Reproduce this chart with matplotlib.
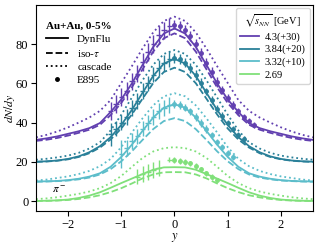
import numpy as np
import matplotlib
matplotlib.use('Agg')
from matplotlib import pyplot as plt
from matplotlib.lines import Line2D

plt.rcParams['font.family'] = 'serif'
plt.rcParams['font.serif'] = ['Liberation Serif', 'DejaVu Serif']
plt.rcParams['mathtext.fontset'] = 'stix'
plt.rcParams['font.size'] = 9
plt.rcParams['xtick.major.pad'] = 2.5
plt.rcParams['ytick.major.pad'] = 2

# model curves, y >= 0 (mirrored to y < 0), step 0.2
y_half = [0.0, 0.2, 0.4, 0.6, 0.8, 1.0, 1.2, 1.4, 1.6, 1.8, 2.0, 2.2, 2.4, 2.6]

dyn_43 = [88.0, 85.4, 78.6, 69.4, 60.0, 51.8, 45.4, 39.8, 37.2, 35.6, 34.3, 33.0, 32.0, 31.2]
iso_43 = [85.5, 83.0, 76.2, 67.2, 58.0, 50.0, 43.8, 38.9, 36.4, 34.8, 33.4, 32.2, 31.3, 30.7]
cas_43 = [94.0, 91.8, 86.0, 77.8, 68.8, 60.2, 51.5, 46.0, 42.6, 40.0, 37.6, 35.5, 33.8, 32.5]

dyn_384 = [72.5, 70.1, 63.8, 55.2, 46.5, 38.8, 32.6, 28.0, 24.9, 22.8, 21.5, 20.7, 20.3, 20.1]
iso_384 = [68.0, 65.8, 60.1, 52.2, 44.2, 37.0, 31.4, 27.3, 24.4, 22.5, 21.3, 20.6, 20.2, 20.0]
cas_384 = [77.0, 75.0, 69.5, 61.6, 52.8, 44.0, 36.0, 30.0, 26.8, 24.6, 23.2, 22.3, 21.6, 21.1]

dyn_332 = [49.4, 47.6, 42.6, 35.8, 28.8, 22.5, 17.5, 14.2, 12.5, 11.4, 10.7, 10.3, 10.1, 10.0]
iso_332 = [42.3, 40.8, 36.7, 31.2, 25.4, 20.3, 16.3, 13.6, 12.0, 11.1, 10.5, 10.2, 10.0, 9.9]
cas_332 = [55.0, 53.4, 48.8, 42.2, 35.0, 27.5, 21.5, 17.8, 15.4, 13.8, 12.6, 11.8, 11.0, 10.5]

dyn_269 = [17.3, 17.2, 16.0, 13.8, 11.5, 9.2, 6.8, 4.5, 2.8, 1.6, 0.8, 0.4, 0.2, 0.1]
iso_269 = [14.8, 14.7, 13.6, 11.6, 9.0, 6.6, 4.6, 3.0, 1.9, 1.1, 0.6, 0.3, 0.15, 0.1]
cas_269 = [27.5, 27.0, 25.3, 22.0, 17.5, 12.8, 9.2, 6.6, 4.9, 3.7, 2.8, 2.0, 1.4, 1.0]

# E895 data (already shifted)
d43_y = [-1.2, -1.1, -1.0, -0.9, -0.8, -0.7, -0.6, -0.5, -0.4, -0.3, -0.2, -0.1,
         0.0, 0.1, 0.2, 0.3, 0.4, 0.5, 0.6, 0.7, 0.8, 0.9, 1.0, 1.1, 1.2, 1.3, 1.4, 1.5]
d43_v = [46, 49.5, 53, 56, 61, 65, 71, 76, 80, 84.5, 87, 89,
         90, 89.3, 87.3, 84.2, 80.2, 75.5, 70.6, 65.7, 60.8, 56.5, 52.4, 48.9, 45.7, 43.1, 40.7, 38.9]
d43_e = [4.5, 4.5, 4.5, 4.5, 4.5, 4.5, 4.5, 4.5, 4.5, 4.5, 4.5, 4.5,
         2.5, 2.5, 2.5, 2.5, 2.5, 2.5, 2.5, 2.5, 2.5, 2.0, 2.0, 2.0, 2.0, 1.5, 1.5, 1.5]

d384_y = [-1.2, -1.1, -1.0, -0.9, -0.8, -0.7, -0.6, -0.5, -0.4, -0.3, -0.2, -0.1,
          0.0, 0.1, 0.2, 0.3, 0.4, 0.5, 0.6, 0.7, 0.8, 0.9, 1.0, 1.1, 1.2, 1.3]
d384_v = [34, 37, 40, 43, 47.5, 51, 56, 60, 64.5, 68, 70.5, 72.5,
          73, 72.4, 70.6, 67.8, 64.3, 60.2, 55.9, 51.5, 47.2, 43.4, 39.8, 36.7, 33.8, 31.6]
d384_e = [6, 4, 4, 4, 4, 4, 4, 4, 4, 4, 4, 4,
          2.5, 2.5, 2.5, 2.5, 2.5, 2.5, 2, 2, 2, 2, 1.5, 1.5, 1.5, 1.5]

d332_y = [-1.0, -0.9, -0.8, -0.7, -0.6, -0.5, -0.4, -0.3, -0.2, -0.1,
          0.0, 0.1, 0.2, 0.3, 0.4, 0.5, 0.6, 0.7, 0.8, 0.9, 1.0, 1.1]
d332_v = [24, 27, 30.5, 33, 37, 40, 43, 46, 47.5, 49,
          49.5, 49.0, 47.7, 45.7, 43.0, 40.0, 36.7, 33.5, 30.3, 27.4, 24.7, 22.4]
d332_e = [7, 4, 4, 4, 4, 4, 4, 4, 4, 4,
          2, 2, 2, 2, 2, 2, 2, 1.5, 1.5, 1.5, 1.5, 1.5]

d269_y = [-0.7, -0.6, -0.5, -0.4, -0.3, -0.1,
          0.0, 0.1, 0.2, 0.3, 0.4, 0.5, 0.6, 0.7, 0.8]
d269_v = [12.5, 14, 15, 16, 17, 21.2,
          21, 20.5, 20, 19.2, 17.8, 16.2, 14.1, 12.4, 10.7]
d269_e = [4, 4, 4, 4, 4, 1.5,
          1.5, 1.5, 1.5, 1.5, 1.5, 1.2, 1.2, 1.2, 1.2]

colors = ['#6240b0', '#2a8099', '#5cbdca', '#80e07a']
labels = ['4.3(+30)', '3.84(+20)', '3.32(+10)', '2.69']

def full(half):
    h = np.array(half)
    return np.r_[h[:0:-1], h]

y_full = np.r_[-np.array(y_half)[:0:-1], y_half]

fig, ax = plt.subplots(figsize=(3.19, 2.45), dpi=100)
fig.subplots_adjust(left=0.113, right=0.981, bottom=0.139, top=0.98)

models = [(dyn_43, iso_43, cas_43), (dyn_384, iso_384, cas_384),
          (dyn_332, iso_332, cas_332), (dyn_269, iso_269, cas_269)]
datas = [(d43_y, d43_v, d43_e), (d384_y, d384_v, d384_e),
         (d332_y, d332_v, d332_e), (d269_y, d269_v, d269_e)]

for c, (dyn, iso, cas), (dy, dv, de) in zip(colors, models, datas):
    ax.plot(y_full, full(dyn), '-', color=c, lw=1.3)
    ax.plot(y_full, full(iso), '--', color=c, lw=1.3)
    ax.plot(y_full, full(cas), ':', color=c, lw=1.3)
    dy = np.array(dy); dv = np.array(dv); de = np.array(de)
    neg = dy < 0
    ax.errorbar(dy[neg], dv[neg], yerr=de[neg], xerr=0.05, fmt='none',
                ecolor=c, elinewidth=1.0)
    ax.errorbar(dy[~neg], dv[~neg], yerr=de[~neg], fmt='o', ms=2.5,
                color=c, elinewidth=1.0)

ax.text(-2.3, 4.0, r'$\pi^-$', fontsize=8)

ax.set_xlim(-2.6, 2.6)
ax.set_ylim(-5, 100)
ax.set_xticks([-2, -1, 0, 1, 2])
ax.set_yticks([0, 20, 40, 60, 80])
ax.set_xlabel(r'$y$', labelpad=0)
ax.set_ylabel(r'$dN/dy$', fontsize=8.5)
ax.yaxis.set_label_coords(-0.068, 0.5)

style_handles = [Line2D([], [], color='k', ls='-', lw=1.3),
                 Line2D([], [], color='k', ls='--', lw=1.3),
                 Line2D([], [], color='k', ls=':', lw=1.3),
                 Line2D([], [], color='k', ls='none', marker='o', ms=2.5)]
leg1 = ax.legend(style_handles, ['DynFlu', r'iso-$\tau$', 'cascade', 'E895'],
                 loc='upper left', frameon=False, title='Au+Au, 0-5%',
                 title_fontproperties={'weight': 'bold', 'size': 8},
                 alignment='left', handlelength=2.0, labelspacing=0.3,
                 fontsize=8, bbox_to_anchor=(0.0, 0.965))
ax.add_artist(leg1)

en_handles = [Line2D([], [], color=c, lw=1.3) for c in colors]
ax.legend(en_handles, labels, loc='upper right', title=r'$\sqrt{s_{NN}}$ [GeV]',
          handlelength=1.8, labelspacing=0.3, fontsize=7.5, title_fontsize=7.5,
          borderaxespad=0.3, handletextpad=0.6)

fig.savefig('out.png', dpi=100)
